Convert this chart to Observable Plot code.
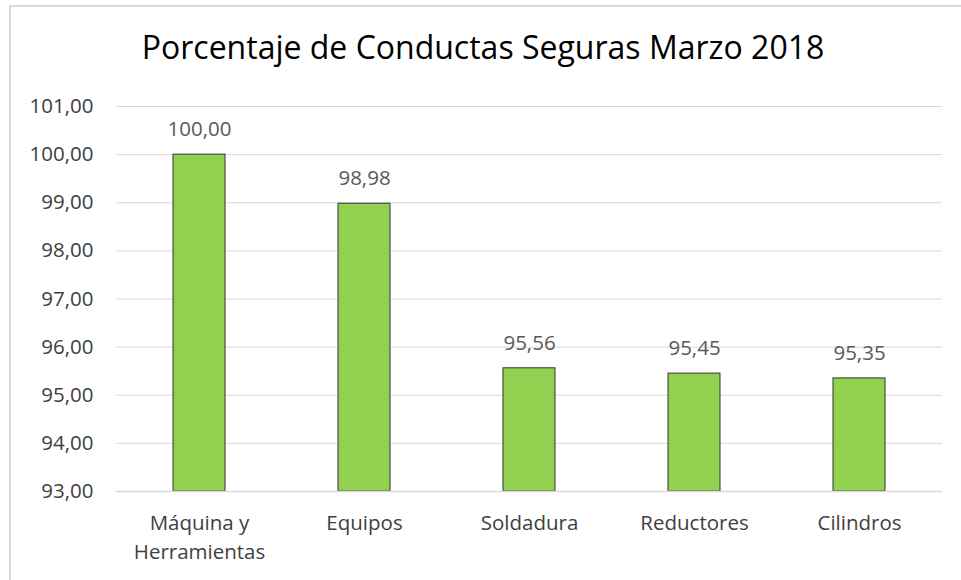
<!DOCTYPE html>
<html>
<head>
<meta charset="utf-8">
<script src="https://cdn.jsdelivr.net/npm/d3@7"></script>
<script src="https://cdn.jsdelivr.net/npm/@observablehq/plot@0.6"></script>
<style>
  html, body { margin: 0; padding: 0; background: #fff; overflow: hidden; }
  #frame {
    position: absolute; left: 9px; top: 5px; width: 960px; height: 600px;
    border-left: 2px solid #d9d9d9; border-top: 2px solid #d9d9d9;
    box-sizing: border-box; background: #fff;
  }
  #title {
    position: absolute; left: 0; top: 0; width: 944px; height: 80px;
    font-family: "Open Sans", "Noto Sans", sans-serif; font-size: 32px; color: #000;
    text-align: center; line-height: 1;
  }
  #title span { position: absolute; left: 0; right: 0; top: 24px; }
  #chart { position: absolute; left: 0; top: 80px; }
</style>
</head>
<body>
<div id="frame">
  <div id="title"><span>Porcentaje de Conductas Seguras Marzo 2018</span></div>
  <div id="chart"></div>
</div>
<script>
const categories = ["Máquina y\nHerramientas", "Equipos", "Soldadura", "Reductores", "Cilindros"];
const values = [100.00, 98.98, 95.56, 95.45, 95.35];
const yTicks = [93, 94, 95, 96, 97, 98, 99, 100, 101];

const data = categories.map((c, i) => ({category: c, value: values[i]}));
const fmt = v => v.toFixed(2).replace(".", ",");

const chart = Plot.plot({
  width: 944,
  height: 493,
  marginLeft: 105,
  marginRight: 13,
  marginTop: 19,
  marginBottom: 89,
  style: {fontFamily: "'Open Sans', 'Noto Sans', sans-serif", background: "transparent"},
  x: {domain: categories, paddingInner: 0.685, paddingOuter: 0.3425, label: null},
  y: {domain: [93, 101], label: null},
  marks: [
    Plot.gridY(yTicks, {stroke: "#d9d9d9", strokeOpacity: 1, strokeWidth: 1}),
    Plot.barY(data, {x: "category", y1: 93, y2: "value", fill: "#92d050", stroke: "#333", strokeWidth: 1}),
    Plot.ruleY([93], {stroke: "#d9d9d9", strokeWidth: 1.5}),
    Plot.text(data, {x: "category", y: "value", text: d => fmt(d.value), dy: -25, fontSize: 20.5, fill: "#595959"}),
    Plot.axisY(yTicks, {tickSize: 0, tickPadding: 23, tickFormat: fmt, fontSize: 20.5, fill: "#404040", label: null}),
    Plot.axisX({tickSize: 0, tickPadding: 19, fontSize: 20.5, fill: "#404040", lineHeight: 1.37, label: null})
  ]
});
document.getElementById("chart").appendChild(chart);
</script>
</body>
</html>
